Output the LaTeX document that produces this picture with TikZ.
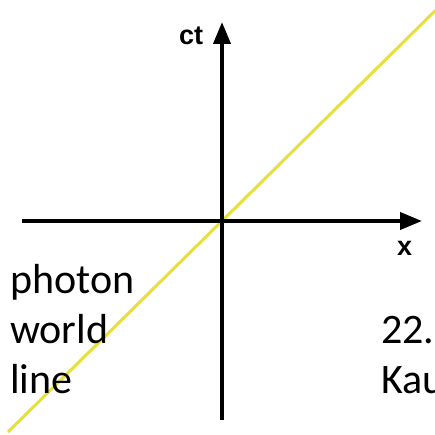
\documentclass[tikz,border=0pt]{standalone}
\usepackage{fontspec}
\setmainfont{Carlito}
\newfontfamily\labelfont{Liberation Sans}
\usepackage{tikz}
\usetikzlibrary{arrows.meta}
\definecolor{AxisBlack}{HTML}{000000}
\definecolor{PhotonYellow}{HTML}{E6DF3C}
\tikzset{
  axis/.style={line width=4pt,draw=AxisBlack,
               -{Triangle[length=22pt,width=17pt]}},
  photon/.style={line width=3pt,draw=PhotonYellow},
  axlbl/.style={inner sep=0pt,anchor=base west,
                font=\labelfont\bfseries\fontsize{27}{30}\selectfont},
  txt/.style={inner sep=0pt,anchor=base west,
              font=\fontsize{42}{50}\selectfont}
}
\begin{document}
\begin{tikzpicture}[x=1pt,y=1pt]
  \useasboundingbox (0,0) rectangle (435,434);
  \clip (0,0) rectangle (435,434);
  \coordinate (o) at (222,213);
  \coordinate (xl) at (22,213);
  \coordinate (xr) at (422,213);
  \coordinate (tb) at (222,14);
  \coordinate (tt) at (222,412);
  \coordinate (pb) at (8,2);
  \coordinate (pt) at (442,430);

  \draw[photon] (pb) -- (pt);
  \draw[axis] (xl) -- (xr);
  \draw[axis] (tb) -- (tt);

  \node[axlbl] (ct) at (179,389) {ct};
  \node[axlbl] (xx) at (397,179) {x};

  \node[txt] (w1) at (10,141) {photon};
  \node[txt] (w2) at (10,91) {world};
  \node[txt] (w3) at (10,41) {line};
  \node[txt] (r1) at (381,91) {22.};
  \node[txt] (r2) at (381,41) {Kau};
\end{tikzpicture}
\end{document}
